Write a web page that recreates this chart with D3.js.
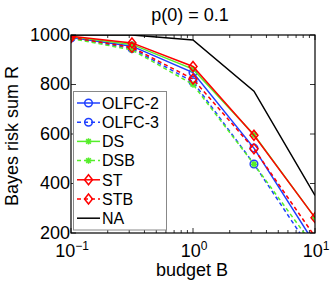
<!DOCTYPE html>
<html>
<head>
<meta charset="utf-8">
<script src="https://cdn.jsdelivr.net/npm/d3@7"></script>
<style>
  body { margin: 0; background: #fff; }
  svg { display: block; font-family: "Liberation Sans", Arial, sans-serif; }
</style>
</head>
<body>
<div id="chart"></div>
<script>
// budgets (log axis)
var budgets = [0.1, 0.316, 1, 3.16, 10];
var seriesNames = ["OLFC-2", "OLFC-3", "DS", "DSB", "ST", "STB", "NA"];
var olfc2 = [990, 955, 848, 543, 155];
var olfc3 = [988, 945, 811, 479, 107];
var ds    = [993, 962, 862, 597, 262];
var dsb   = [986, 940, 800, 478, 140];
var st    = [995, 968, 873, 595, 262];
var stb   = [990, 950, 822, 540, 185];
var na    = [1000, 1000, 980, 773, 352];
var yTicks = [200, 400, 600, 800, 1000];
var xTicks = [0.1, 1, 10];
var xExp = ["\u22121", "0", "1"];

var styles = [
  {color: "#1f3fff", dash: null, marker: "circle"},
  {color: "#1f3fff", dash: "4,3", marker: "circle"},
  {color: "#55ee2a", dash: null, marker: "star"},
  {color: "#55ee2a", dash: "4,3", marker: "star"},
  {color: "#ff0000", dash: null, marker: "diamond"},
  {color: "#ff0000", dash: "4,3", marker: "diamond"},
  {color: "#000000", dash: null, marker: null}
];
var values = [olfc2, olfc3, ds, dsb, st, stb, na];

var W = 332, H = 281;
var L = 71, R = 315, T = 35, B = 233;

var svg = d3.select("#chart").append("svg").attr("width", W).attr("height", H);

var x = d3.scaleLog().domain([0.1, 10]).range([L, R]);
var y = d3.scaleLinear().domain([200, 1000]).range([B, T]);

svg.append("clipPath").attr("id", "clip")
  .append("rect").attr("x", L).attr("y", T).attr("width", R - L).attr("height", B - T);

// ticks, pointing inward on all four sides
var minor = [];
[0.1, 1].forEach(function(d) { for (var k = 2; k <= 9; k++) minor.push(d * k); });
var tk = svg.append("g").attr("stroke", "#000").attr("stroke-width", 0.8);
minor.forEach(function(v) {
  tk.append("line").attr("x1", x(v)).attr("x2", x(v)).attr("y1", B).attr("y2", B - 3);
  tk.append("line").attr("x1", x(v)).attr("x2", x(v)).attr("y1", T).attr("y2", T + 3);
});
xTicks.forEach(function(v) {
  tk.append("line").attr("x1", x(v)).attr("x2", x(v)).attr("y1", B).attr("y2", B - 5);
  tk.append("line").attr("x1", x(v)).attr("x2", x(v)).attr("y1", T).attr("y2", T + 5);
});
yTicks.forEach(function(v) {
  tk.append("line").attr("x1", L).attr("x2", L + 5).attr("y1", y(v)).attr("y2", y(v));
  tk.append("line").attr("x1", R).attr("x2", R - 5).attr("y1", y(v)).attr("y2", y(v));
});

// tick labels
svg.selectAll(".ylab").data(yTicks).enter().append("text")
  .attr("x", L - 1).attr("y", function(d) { return y(d); })
  .attr("dy", "0.33em").attr("text-anchor", "end")
  .attr("font-size", 18).text(function(d) { return d; });

xTicks.forEach(function(v, i) {
  var t = svg.append("text").attr("x", x(v) + 1).attr("y", 257)
    .attr("text-anchor", "middle").attr("font-size", 18);
  t.append("tspan").text("10");
  t.append("tspan").attr("font-size", 12).attr("dy", -7).text(xExp[i]);
});

var plot = svg.append("g").attr("clip-path", "url(#clip)");
var line = d3.line().x(function(d, i) { return x(budgets[i]); }).y(function(d) { return y(d); });

function drawMarker(g, type, color, cx, cy) {
  if (type === "circle") {
    g.append("circle").attr("cx", cx).attr("cy", cy).attr("r", 3.8)
      .attr("fill", "none").attr("stroke", color).attr("stroke-width", 1.5);
  } else if (type === "diamond") {
    g.append("path").attr("d", "M" + cx + "," + (cy - 5) + "L" + (cx + 4) + "," + cy +
      "L" + cx + "," + (cy + 5) + "L" + (cx - 4) + "," + cy + "Z")
      .attr("fill", "none").attr("stroke", color).attr("stroke-width", 1.5);
  } else if (type === "star") {
    var r = 3.2, d = 2.3;
    g.append("path").attr("d",
      "M" + (cx - r) + "," + cy + "L" + (cx + r) + "," + cy +
      "M" + cx + "," + (cy - r) + "L" + cx + "," + (cy + r) +
      "M" + (cx - d) + "," + (cy - d) + "L" + (cx + d) + "," + (cy + d) +
      "M" + (cx - d) + "," + (cy + d) + "L" + (cx + d) + "," + (cy - d))
      .attr("stroke", color).attr("stroke-width", 1.5);
  }
}

values.forEach(function(vals, k) {
  var s = styles[k];
  plot.append("path").datum(vals).attr("d", line)
    .attr("fill", "none").attr("stroke", s.color).attr("stroke-width", 1.5)
    .attr("stroke-dasharray", s.dash);
  if (s.marker) {
    vals.forEach(function(v, i) {
      if (v >= 200) drawMarker(plot, s.marker, s.color, x(budgets[i]), y(v));
    });
  }
});

// box
svg.append("rect").attr("x", L).attr("y", T).attr("width", R - L).attr("height", B - T)
  .attr("fill", "none").attr("stroke", "#000").attr("stroke-width", 1.2);

// legend
var lg = svg.append("g");
lg.append("rect").attr("x", 73.5).attr("y", 91.5).attr("width", 93).attr("height", 138.5)
  .attr("fill", "#fff").attr("stroke", "#888").attr("stroke-width", 1);
seriesNames.forEach(function(name, k) {
  var s = styles[k];
  var yy = 103 + k * 19.2;
  lg.append("line").attr("x1", 77).attr("x2", 100).attr("y1", yy).attr("y2", yy)
    .attr("stroke", s.color).attr("stroke-width", 1.5).attr("stroke-dasharray", s.dash);
  if (s.marker) drawMarker(lg, s.marker, s.color, 88.5, yy);
  lg.append("text").attr("x", 102).attr("y", yy).attr("dy", "0.36em")
    .attr("font-size", 16).text(name);
});

// titles
svg.append("text").attr("x", 190).attr("y", 21).attr("text-anchor", "middle")
  .attr("font-size", 18).text("p(0) = 0.1");
svg.append("text").attr("x", 192).attr("y", 276).attr("text-anchor", "middle")
  .attr("font-size", 18).text("budget B");
svg.append("text").attr("transform", "translate(18,136) rotate(-90)")
  .attr("text-anchor", "middle").attr("font-size", 18).text("Bayes risk sum R");
</script>
</body>
</html>
